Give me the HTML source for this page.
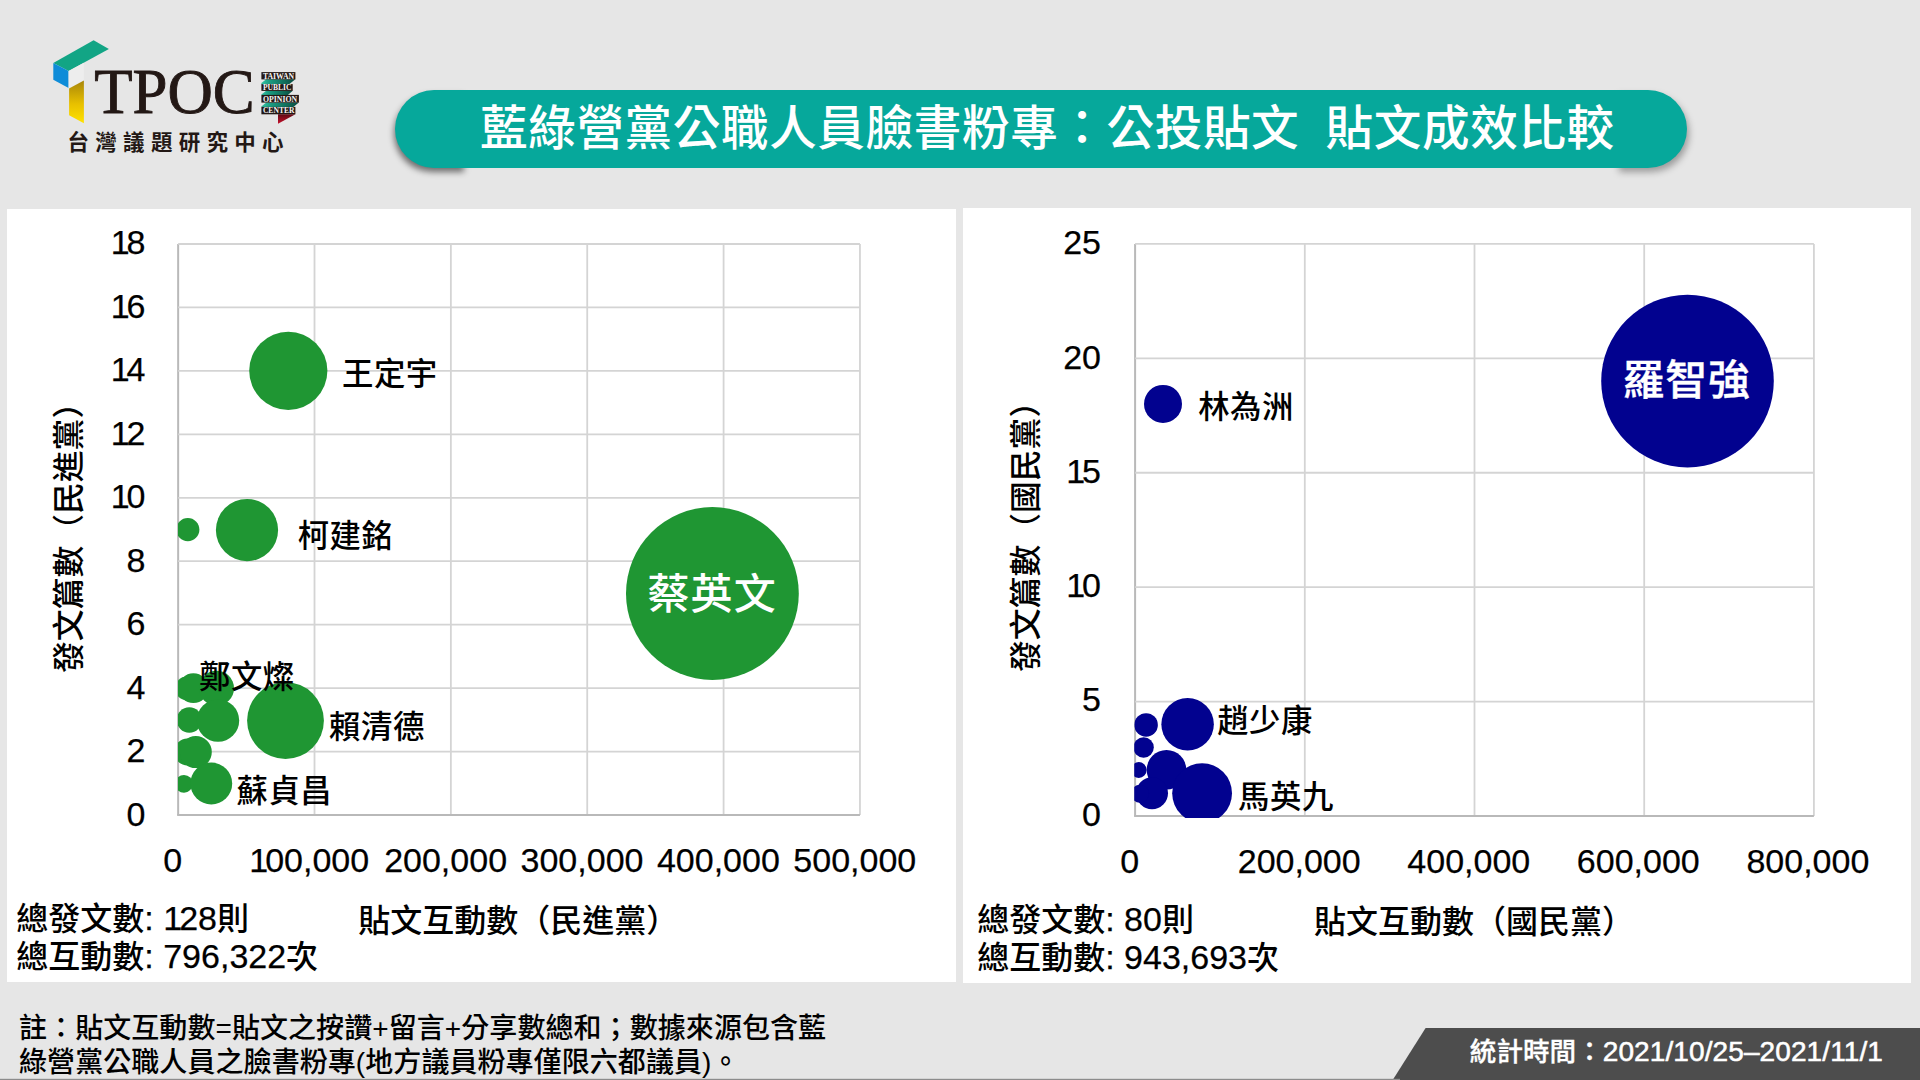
<!DOCTYPE html>
<html lang="zh-Hant">
<head>
<meta charset="utf-8">
<title>藍綠營黨公職人員臉書粉專：公投貼文 貼文成效比較</title>
<style>
html,body{margin:0;padding:0;}
body{width:1920px;height:1080px;overflow:hidden;background:#e6e6e6;position:relative;
  font-family:"Liberation Sans","Noto Sans CJK TC",sans-serif;color:#000;}
.abs{position:absolute;white-space:nowrap;line-height:1;}
#shapes{position:absolute;left:0;top:0;}
.panel{position:absolute;background:#fff;}
#banner{position:absolute;left:395px;top:89.9px;width:1292px;height:77.7px;border-radius:39px;background:#06a89b;}
.bsh{position:absolute;top:95px;width:70px;height:77px;background:rgba(0,0,0,.52);filter:blur(3px);}
#title{left:480px;top:104.5px;font-size:47.6px;letter-spacing:.6px;word-spacing:12.5px;color:#fff;font-weight:500;}
.num{font-size:34px;font-family:"Liberation Sans",sans-serif;-webkit-text-stroke:.25px #000;}
.yl{text-align:right;width:60px;}
.xl{text-align:center;width:160px;}
.lab{font-size:31.4px;letter-spacing:.5px;font-weight:500;}
.big{font-size:42px;letter-spacing:1.1px;color:#fff;font-weight:500;}
.sum{font-size:32px;font-weight:500;}
.sum .n{font-size:34px;font-weight:400;-webkit-text-stroke:.25px #000;}
.note{font-size:28px;left:19px;font-weight:500;letter-spacing:.07px;}
#cn{left:67.5px;top:133.3px;font-size:21.5px;font-weight:700;letter-spacing:6.3px;color:#231815;}
#stat{left:1469.8px;top:1037.6px;font-size:26.6px;color:#fff;font-weight:500;-webkit-text-stroke:.3px #fff;}
#stat .n{font-size:28px;font-weight:400;-webkit-text-stroke:.55px #fff;letter-spacing:.1px;}
.ytitle{font-weight:500;font-size:31.8px;transform-origin:0 0;transform:rotate(-90deg);}
</style>
</head>
<body>
<div class="panel" style="left:6.8px;top:208.9px;width:949.2px;height:773px;"></div>
<div class="panel" style="left:962.9px;top:207.9px;width:948.5px;height:775px;"></div>
<div class="bsh" style="left:394px;border-radius:39px 0 0 39px;"></div>
<div class="bsh" style="left:1619px;border-radius:0 39px 39px 0;background:rgba(0,0,0,.33);filter:blur(3.5px);"></div>
<div id="banner"></div>
<svg id="shapes" width="1920" height="1080" viewBox="0 0 1920 1080">

<g id="logo">
<polygon points="93.6,40.3 108.9,49.1 68.6,71.1 53.3,63" fill="#12a585"/>
<polygon points="53.3,63 68.6,71 68.6,88.1 53.3,79.7" fill="#0e8cd8"/>
<polygon points="68.6,71 83.9,62.7 83.9,80.6 68.6,88.3" fill="#ededed"/>
<linearGradient id="yg" x1="0" y1="0" x2="0" y2="1"><stop offset="0" stop-color="#a8860a"/><stop offset=".55" stop-color="#e8c000"/><stop offset="1" stop-color="#ffe200"/></linearGradient>
<polygon points="69.1,88.5 83.9,80.6 83.9,123.2 69.1,115.3" fill="url(#yg)"/>
<text x="94.2" y="113.2" font-family="'Liberation Serif',serif" font-size="64" fill="#231815" stroke="#231815" stroke-width="0.9" textLength="160.5" lengthAdjust="spacingAndGlyphs">TPOC</text>
<linearGradient id="gg" x1="0" y1="0" x2="1" y2="0"><stop offset="0" stop-color="#35c3a4"/><stop offset=".25" stop-color="#1a9b80"/><stop offset="1" stop-color="#0a4c40"/></linearGradient>
<linearGradient id="rg" x1="0" y1="0" x2="0" y2="1"><stop offset="0" stop-color="#5e0a14"/><stop offset="1" stop-color="#c8102c"/></linearGradient>
<g>
<polygon points="261.4,83.1 266.2,79.3 295.4,79.3 289.1,84.2 261.4,84.2" fill="url(#gg)"/>
<polygon points="261.4,94.5 266.2,90.8 292.7,90.8 287.9,95 261.4,95" fill="url(#gg)"/>
<polygon points="261.4,106.5 266.2,102.5 298.9,102.5 293.3,107 261.4,107" fill="url(#gg)"/>
<rect x="261.4" y="72.1" width="34" height="7.3" fill="#231815"/>
<rect x="261.4" y="84.1" width="31.3" height="6.8" fill="#231815"/>
<rect x="261.4" y="94.9" width="37.5" height="7.7" fill="#231815"/>
<rect x="261.4" y="106.9" width="34" height="7.4" fill="#231815"/>
<polygon points="278,114.3 295.4,114.3 278,123.7" fill="url(#rg)"/>
<g font-family="'Liberation Serif',serif" font-weight="700" font-size="8" fill="#f4f4f4">
<text x="262.9" y="78.5" textLength="31.3" lengthAdjust="spacingAndGlyphs">TAIWAN</text>
<text x="262.9" y="90" textLength="28.6" lengthAdjust="spacingAndGlyphs">PUBLIC</text>
<text x="262.9" y="101.8" textLength="34.3" lengthAdjust="spacingAndGlyphs">OPINION</text>
<text x="262.9" y="113.4" textLength="31.6" lengthAdjust="spacingAndGlyphs">CENTER</text>
</g>
</g>
</g>

<clipPath id="cp1"><rect x="178.0" y="242.0" width="685.95" height="574.5"/></clipPath>
<line x1="178.15" y1="244.0" x2="178.15" y2="815.0" stroke="#b9b9b9" stroke-width="2"/>
<line x1="314.51" y1="244.0" x2="314.51" y2="815.0" stroke="#d4d4d4" stroke-width="1.8"/>
<line x1="450.87" y1="244.0" x2="450.87" y2="815.0" stroke="#d4d4d4" stroke-width="1.8"/>
<line x1="587.23" y1="244.0" x2="587.23" y2="815.0" stroke="#d4d4d4" stroke-width="1.8"/>
<line x1="723.59" y1="244.0" x2="723.59" y2="815.0" stroke="#d4d4d4" stroke-width="1.8"/>
<line x1="859.95" y1="244.0" x2="859.95" y2="815.0" stroke="#d4d4d4" stroke-width="1.8"/>
<line x1="177.15" y1="815.00" x2="859.95" y2="815.00" stroke="#b9b9b9" stroke-width="2"/>
<line x1="178.15" y1="751.56" x2="859.95" y2="751.56" stroke="#d4d4d4" stroke-width="1.8"/>
<line x1="178.15" y1="688.11" x2="859.95" y2="688.11" stroke="#d4d4d4" stroke-width="1.8"/>
<line x1="178.15" y1="624.67" x2="859.95" y2="624.67" stroke="#d4d4d4" stroke-width="1.8"/>
<line x1="178.15" y1="561.22" x2="859.95" y2="561.22" stroke="#d4d4d4" stroke-width="1.8"/>
<line x1="178.15" y1="497.78" x2="859.95" y2="497.78" stroke="#d4d4d4" stroke-width="1.8"/>
<line x1="178.15" y1="434.33" x2="859.95" y2="434.33" stroke="#d4d4d4" stroke-width="1.8"/>
<line x1="178.15" y1="370.89" x2="859.95" y2="370.89" stroke="#d4d4d4" stroke-width="1.8"/>
<line x1="178.15" y1="307.44" x2="859.95" y2="307.44" stroke="#d4d4d4" stroke-width="1.8"/>
<line x1="178.15" y1="244.00" x2="859.95" y2="244.00" stroke="#d4d4d4" stroke-width="1.8"/>
<g clip-path="url(#cp1)" fill="#1f9633">
<circle cx="288.3" cy="370.8" r="39.1"/>
<circle cx="247" cy="530.1" r="31.1"/>
<circle cx="187.8" cy="529.6" r="11.6"/>
<circle cx="712.4" cy="593.5" r="86.4"/>
<circle cx="186.8" cy="688.3" r="11.8"/>
<circle cx="193.4" cy="688.2" r="14.9"/>
<circle cx="216.5" cy="688.2" r="17.5"/>
<circle cx="189.3" cy="720" r="12.7"/>
<circle cx="218" cy="720.6" r="21.2"/>
<circle cx="285.5" cy="720.6" r="38.4"/>
<circle cx="187.5" cy="752" r="13.4"/>
<circle cx="195.8" cy="752.1" r="16"/>
<circle cx="184" cy="783.8" r="8.9"/>
<circle cx="211.3" cy="783.5" r="20.9"/>
</g>
<clipPath id="cp2"><rect x="1134.25" y="241.9" width="683.6500000000001" height="576.0"/></clipPath>
<line x1="1135.10" y1="243.9" x2="1135.10" y2="816.0" stroke="#b9b9b9" stroke-width="2"/>
<line x1="1304.80" y1="243.9" x2="1304.80" y2="816.0" stroke="#d4d4d4" stroke-width="1.8"/>
<line x1="1474.50" y1="243.9" x2="1474.50" y2="816.0" stroke="#d4d4d4" stroke-width="1.8"/>
<line x1="1644.20" y1="243.9" x2="1644.20" y2="816.0" stroke="#d4d4d4" stroke-width="1.8"/>
<line x1="1813.90" y1="243.9" x2="1813.90" y2="816.0" stroke="#d4d4d4" stroke-width="1.8"/>
<line x1="1134.1" y1="816.00" x2="1813.9" y2="816.00" stroke="#b9b9b9" stroke-width="2"/>
<line x1="1135.1" y1="701.58" x2="1813.9" y2="701.58" stroke="#d4d4d4" stroke-width="1.8"/>
<line x1="1135.1" y1="587.16" x2="1813.9" y2="587.16" stroke="#d4d4d4" stroke-width="1.8"/>
<line x1="1135.1" y1="472.74" x2="1813.9" y2="472.74" stroke="#d4d4d4" stroke-width="1.8"/>
<line x1="1135.1" y1="358.32" x2="1813.9" y2="358.32" stroke="#d4d4d4" stroke-width="1.8"/>
<line x1="1135.1" y1="243.90" x2="1813.9" y2="243.90" stroke="#d4d4d4" stroke-width="1.8"/>
<g clip-path="url(#cp2)" fill="#02028f">
<circle cx="1163" cy="403.9" r="19"/>
<circle cx="1687.5" cy="381.1" r="86.3"/>
<circle cx="1187.6" cy="724.2" r="26.25"/>
<circle cx="1146.1" cy="724.9" r="11.75"/>
<circle cx="1143.6" cy="747.5" r="10.2"/>
<circle cx="1138.8" cy="770" r="7.9"/>
<circle cx="1166.5" cy="769.8" r="19.8"/>
<circle cx="1152" cy="793.2" r="16"/>
<circle cx="1140" cy="793.7" r="9.0"/>
<circle cx="1202.1" cy="793.2" r="29.9"/>
</g>

<polygon points="1425.6,1028 1920,1028 1920,1080 1392.7,1080" fill="#4d4d4d"/>
<rect x="0" y="1078.8" width="1400" height="1.2" fill="#8c8c8c"/>

</svg>
<div class="abs " id="title" style="">藍綠營黨公職人員臉書粉專：公投貼文 貼文成效比較</div>
<div class="abs " id="cn" style="">台灣議題研究中心</div>
<div class="abs num yl" style="left:85.5px;top:796.6px;">0</div>
<div class="abs num yl" style="left:85.5px;top:733.1px;">2</div>
<div class="abs num yl" style="left:85.5px;top:669.7px;">4</div>
<div class="abs num yl" style="left:85.5px;top:606.2px;">6</div>
<div class="abs num yl" style="left:85.5px;top:542.7px;">8</div>
<div class="abs num yl" style="left:85.5px;top:479.3px;"><span style="margin-right:-3px">1</span>0</div>
<div class="abs num yl" style="left:85.5px;top:415.8px;"><span style="margin-right:-3px">1</span>2</div>
<div class="abs num yl" style="left:85.5px;top:352.3px;"><span style="margin-right:-3px">1</span>4</div>
<div class="abs num yl" style="left:85.5px;top:288.9px;"><span style="margin-right:-3px">1</span>6</div>
<div class="abs num yl" style="left:85.5px;top:225.4px;"><span style="margin-right:-3px">1</span>8</div>
<div class="abs num xl" style="left:92.8px;top:843px;">0</div>
<div class="abs num xl" style="left:229.2px;top:843px;"><span style="margin-right:-3px">1</span>00,000</div>
<div class="abs num xl" style="left:365.6px;top:843px;">200,000</div>
<div class="abs num xl" style="left:502.0px;top:843px;">300,000</div>
<div class="abs num xl" style="left:638.4px;top:843px;">400,000</div>
<div class="abs num xl" style="left:774.8px;top:843px;">500,000</div>
<div class="abs num yl" style="left:1041px;top:796.6px;">0</div>
<div class="abs num yl" style="left:1041px;top:682.4px;">5</div>
<div class="abs num yl" style="left:1041px;top:568.1px;"><span style="margin-right:-3px">1</span>0</div>
<div class="abs num yl" style="left:1041px;top:453.9px;"><span style="margin-right:-3px">1</span>5</div>
<div class="abs num yl" style="left:1041px;top:339.6px;">20</div>
<div class="abs num yl" style="left:1041px;top:225.4px;">25</div>
<div class="abs num xl" style="left:1049.6px;top:843.6px;">0</div>
<div class="abs num xl" style="left:1219.2px;top:843.6px;">200,000</div>
<div class="abs num xl" style="left:1388.8px;top:843.6px;">400,000</div>
<div class="abs num xl" style="left:1558.3px;top:843.6px;">600,000</div>
<div class="abs num xl" style="left:1727.9px;top:843.6px;">800,000</div>
<div class="abs lab" style="left:342px;top:358.5px;">王定宇</div>
<div class="abs lab" style="left:297.7px;top:520.5px;">柯建銘</div>
<div class="abs lab" style="left:199px;top:662.2px;">鄭文燦</div>
<div class="abs lab" style="left:329.1px;top:712.4px;">賴清德</div>
<div class="abs lab" style="left:236.5px;top:776.2px;">蘇貞昌</div>
<div class="abs big" style="left:647.5px;top:574.1px;">蔡英文</div>
<div class="abs lab" style="left:1198.2px;top:392.4px;">林為洲</div>
<div class="abs lab" style="left:1217.2px;top:705.8px;">趙少康</div>
<div class="abs lab" style="left:1238.1px;top:782.2px;">馬英九</div>
<div class="abs big" style="left:1622.6px;top:360.4px;font-weight:500;-webkit-text-stroke:.35px #fff;letter-spacing:.7px;">羅智強</div>
<div class="abs sum" style="left:16.3px;top:901px;">總發文數<span class="n">: <span style="margin-right:-3px">1</span>28</span>則</div>
<div class="abs sum" style="left:16.3px;top:938.5px;">總互動數<span class="n">: 796,322</span>次</div>
<div class="abs sum" style="left:358.3px;top:905.2px;">貼文互動數（民進黨）</div>
<div class="abs sum" style="left:977.2px;top:902px;">總發文數<span class="n">: 80</span>則</div>
<div class="abs sum" style="left:977.2px;top:939.6px;">總互動數<span class="n">: 943,693</span>次</div>
<div class="abs sum" style="left:1314px;top:906.2px;">貼文互動數（國民黨）</div>
<div class="abs note" style="top:1015.3px;">註：貼文互動數=貼文之按讚+留言+分享數總和；數據來源包含藍</div>
<div class="abs note" style="top:1049.1px;">綠營黨公職人員之臉書粉專(地方議員粉專僅限六都議員)。</div>
<div class="abs " id="stat" style="">統計時間：<span class="n">2021/10/25–2021/11/1</span></div>
<div class="abs ytitle" style="left:53.5px;top:673px;">發文篇數（民進黨）</div>
<div class="abs ytitle" style="left:1010.5px;top:671.8px;">發文篇數（國民黨）</div>
</body>
</html>
